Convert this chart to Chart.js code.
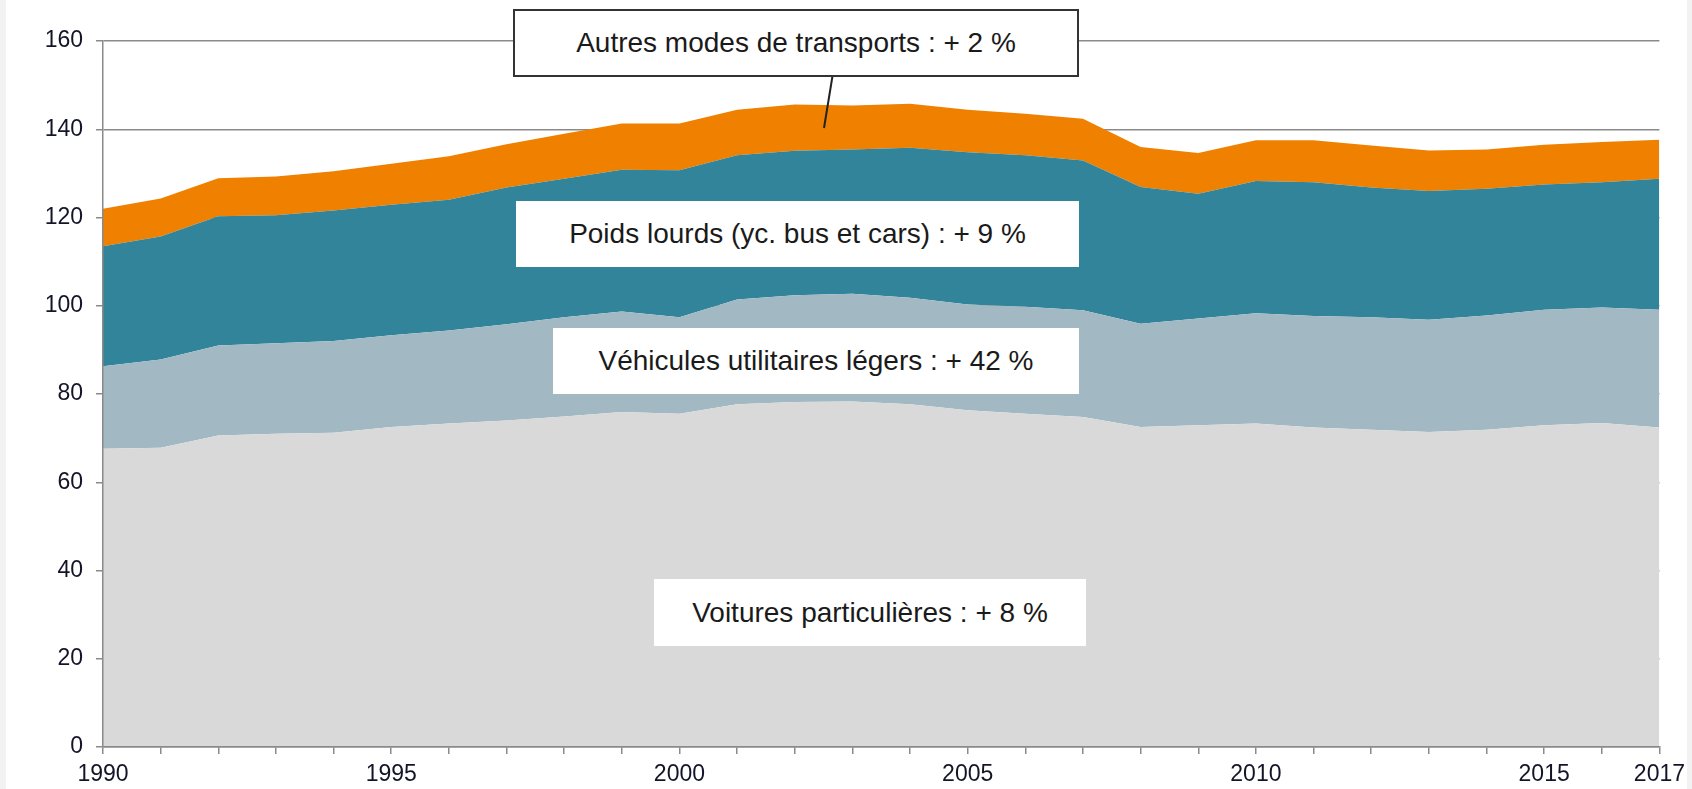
<!DOCTYPE html>
<html>
<head>
<meta charset="utf-8">
<script src="https://cdn.jsdelivr.net/npm/chart.js@4/dist/chart.umd.min.js"></script>
<style>
  html, body { margin: 0; padding: 0; }
  body { width: 1692px; height: 789px; background: #f2f2f2; position: relative; overflow: hidden;
         font-family: "Liberation Sans", Arial, sans-serif; }
  #panel { position: absolute; left: 6px; top: 0; width: 1681px; height: 789px; background: #ffffff; }
  #c { position: absolute; left: 0; top: 0; }
  .lbl { position: absolute; background: #ffffff; box-sizing: border-box; display: flex;
         align-items: center; justify-content: center; font-size: 28px; color: #1a1a1a;
         white-space: nowrap; }
  #box1 { border: 2px solid #333333; }
  svg { position: absolute; left: 0; top: 0; }
</style>
</head>
<body>
<div id="panel"></div>
<canvas id="c" width="1692" height="789" style="width:1692px;height:789px"></canvas>
<svg width="1692" height="789"><line x1="832.5" y1="76" x2="824" y2="128" stroke="#222222" stroke-width="2"/></svg>
<div class="lbl" id="box1" style="left:513px;top:9px;width:566px;height:68px;">Autres modes de transports&nbsp;: + 2 %</div>
<div class="lbl" style="left:516px;top:201px;width:563px;height:66px;">Poids lourds (yc. bus et cars)&nbsp;: + 9 %</div>
<div class="lbl" style="left:553px;top:328px;width:526px;height:66px;">Véhicules utilitaires légers&nbsp;: + 42 %</div>
<div class="lbl" style="left:654px;top:579px;width:432px;height:67px;">Voitures particulières&nbsp;: + 8 %</div>
<script>
const years = ['1990','1991','1992','1993','1994','1995','1996','1997','1998','1999',
               '2000','2001','2002','2003','2004','2005','2006','2007','2008','2009',
               '2010','2011','2012','2013','2014','2015','2016','2017'];
const shownYears = ['1990','1995','2000','2005','2010','2015','2017'];
const yTicks = [0, 20, 40, 60, 80, 100, 120, 140, 160];

// Voitures particulières
const voitures = [67.6, 67.8, 70.6, 71.0, 71.2, 72.5, 73.3, 74.0, 74.9, 75.9,
                  75.5, 77.7, 78.2, 78.3, 77.7, 76.3, 75.5, 74.8, 72.5, 72.9,
                  73.3, 72.4, 71.9, 71.4, 71.9, 72.9, 73.4, 72.4];
// Véhicules utilitaires légers
const vul = [18.7, 20.0, 20.4, 20.5, 20.8, 20.8, 21.1, 21.8, 22.5, 22.8,
             21.9, 23.7, 24.2, 24.4, 24.1, 24.0, 24.3, 24.2, 23.4, 24.2,
             25.0, 25.3, 25.5, 25.4, 25.9, 26.2, 26.2, 26.7];
// Poids lourds (yc. bus et cars)
const poidsLourds = [27.2, 27.9, 29.3, 29.0, 29.6, 29.6, 29.6, 31.0, 31.4, 32.1,
                     33.3, 32.7, 32.7, 32.7, 34.0, 34.5, 34.3, 33.9, 31.0, 28.3,
                     30.0, 30.3, 29.4, 29.2, 28.7, 28.4, 28.4, 29.7];
// Autres modes de transports
const autres = [8.5, 8.6, 8.6, 8.8, 8.9, 9.3, 9.9, 9.8, 10.2, 10.5,
                10.6, 10.3, 10.5, 10.0, 10.0, 9.6, 9.4, 9.5, 9.1, 9.2,
                9.2, 9.5, 9.5, 9.2, 8.9, 9.0, 9.1, 8.8];

const tickFont = { family: '"Liberation Sans", Arial, sans-serif', size: 23 };
const tickColor = '#141428';

function areaDs(label, data, color, fill) {
  return { label, data, backgroundColor: color, borderColor: 'rgba(0,0,0,0)', borderWidth: 1,
           pointRadius: 0, pointHoverRadius: 0, fill, tension: 0 };
}

new Chart(document.getElementById('c'), {
  type: 'line',
  data: {
    labels: years,
    datasets: [
      areaDs('Voitures particulières', voitures, '#d9d9d9', 'origin'),
      areaDs('Véhicules utilitaires légers', vul, '#a2b8c3', '-1'),
      areaDs('Poids lourds (yc. bus et cars)', poidsLourds, '#31849a', '-1'),
      areaDs('Autres modes de transports', autres, '#f08100', '-1')
    ]
  },
  options: {
    responsive: false,
    devicePixelRatio: 1,
    animation: false,
    events: [],
    layout: { padding: { left: 0, right: 30, top: 41, bottom: 0 } },
    plugins: { legend: { display: false }, tooltip: { enabled: false } },
    scales: {
      x: {
        type: 'category',
        offset: false,
        grid: { drawOnChartArea: false, drawTicks: true, tickLength: 7, color: '#8a8a8a', lineWidth: 1.5 },
        border: { display: true, color: '#8a8a8a', width: 1.5, z: 1 },
        ticks: {
          autoSkip: false, maxRotation: 0, minRotation: 0, padding: 7,
          font: tickFont, color: tickColor,
          callback: function (v) { const l = this.getLabelForValue(v); return shownYears.includes(l) ? l : ''; }
        },
        afterFit: s => { s.height = 42; }
      },
      y: {
        stacked: true,
        min: 0, max: 160,
        afterBuildTicks: s => { s.ticks = yTicks.map(v => ({ value: v })); },
        grid: { drawOnChartArea: true, drawTicks: true, tickLength: 7, color: '#8a8a8a', lineWidth: 1.5 },
        border: { display: true, color: '#8a8a8a', width: 1.5, z: 1 },
        ticks: { padding: 13, font: tickFont, color: tickColor },
        afterFit: s => { s.width = 103; }
      }
    }
  }
});
</script>
</body>
</html>
